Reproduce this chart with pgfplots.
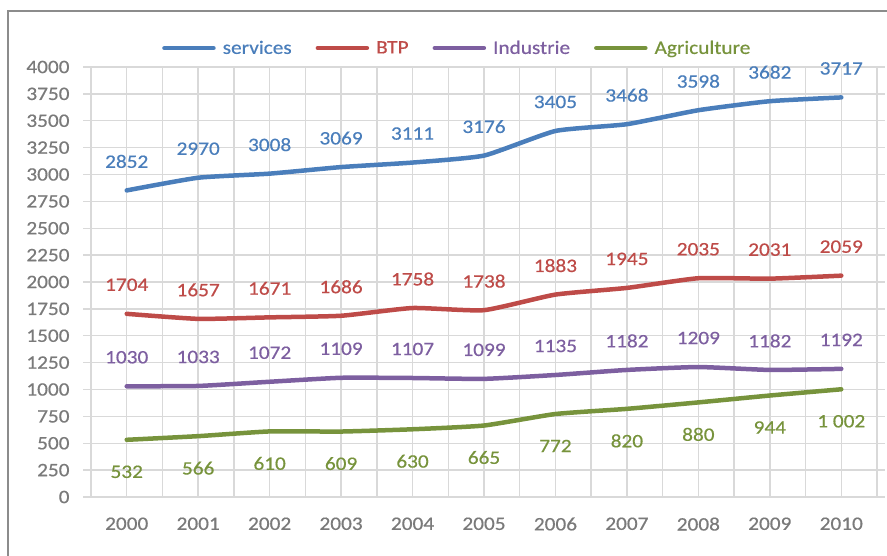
\documentclass[border=0pt]{standalone}
\usepackage{fontspec}
\setmainfont{Carlito}[FakeStretch=1.12, FakeBold=0.5]
\usepackage{pgfplots}
\pgfplotsset{compat=1.18}
\definecolor{svc}{HTML}{4A7EBB}
\definecolor{btp}{HTML}{BE4B48}
\definecolor{ind}{HTML}{7D5FA0}
\definecolor{agr}{HTML}{77933C}
\definecolor{gridc}{HTML}{D9D9D9}
\definecolor{tickc}{HTML}{7A7A7A}
\definecolor{framec}{HTML}{8C8C8C}
\begin{document}
\begin{tikzpicture}
\path[use as bounding box] (-91pt,-58pt) rectangle (796pt,497pt);
\draw[framec, line width=2.2pt] (-83pt,-60pt) -- (-83pt,486pt) -- (800pt,486pt);
\begin{axis}[
  scale only axis, width=786pt, height=430pt,
  xmin=1999.5, xmax=2010.5, ymin=0, ymax=4000,
  xtick={2000,2001,...,2010},
  minor xtick={1999.5,2000.5,...,2010.5},
  ytick={0,250,...,4000},
  grid=both,
  major grid style={gridc, line width=1.4pt},
  minor grid style={gridc, line width=1.4pt},
  axis line style={gridc, line width=1.4pt},
  tick align=outside,
  major tick length=8pt, minor tick length=8pt,
  tick style={gridc, line width=1.4pt},
  xtick style={draw=none},
  xminorticks=true,
  font=\fontsize{19}{22}\selectfont,
  tick label style={text=tickc, font=\fontsize{19}{22}\selectfont},
  /pgf/number format/assume math mode=true,
  /pgf/number format/1000 sep={},
  xticklabel style={yshift=-9pt},
  yticklabel style={xshift=-10pt},
  legend columns=4,
  legend style={draw=none, fill=none, at={(0.466,1.044)}, anchor=center,
    font=\fontsize{19}{22}\selectfont,
    /tikz/every odd column/.append style={column sep=5pt},
    /tikz/every even column/.append style={column sep=22pt}},
  legend image code/.code={\draw[#1, line width=4.5pt, line cap=round] (0pt,0pt) -- (49pt,0pt);},
  point meta=explicit symbolic,
  nodes near coords,
  every node near coord/.append style={font=\fontsize{19}{22}\selectfont, anchor=center},
]
\addplot[svc, line width=4.5pt, smooth, tension=0.3, line cap=round,
  every node near coord/.append style={text=svc, yshift=29pt}]
coordinates {(2000,2852)[2852] (2001,2970)[2970] (2002,3008)[3008] (2003,3069)[3069] (2004,3111)[3111] (2005,3176)[3176] (2006,3405)[3405] (2007,3468)[3468] (2008,3598)[3598] (2009,3682)[3682] (2010,3717)[3717]};
\addlegendentry{\textcolor{svc}{services}}
\addplot[btp, line width=4.5pt, smooth, tension=0.3, line cap=round,
  every node near coord/.append style={text=btp, yshift=29pt}]
coordinates {(2000,1704)[1704] (2001,1657)[1657] (2002,1671)[1671] (2003,1686)[1686] (2004,1758)[1758] (2005,1738)[1738] (2006,1883)[1883] (2007,1945)[1945] (2008,2035)[2035] (2009,2031)[2031] (2010,2059)[2059]};
\addlegendentry{\textcolor{btp}{BTP}}
\addplot[ind, line width=4.5pt, smooth, tension=0.3, line cap=round,
  every node near coord/.append style={text=ind, yshift=29pt}]
coordinates {(2000,1030)[1030] (2001,1033)[1033] (2002,1072)[1072] (2003,1109)[1109] (2004,1107)[1107] (2005,1099)[1099] (2006,1135)[1135] (2007,1182)[1182] (2008,1209)[1209] (2009,1182)[1182] (2010,1192)[1192]};
\addlegendentry{\textcolor{ind}{Industrie}}
\addplot[agr, line width=4.5pt, smooth, tension=0.3, line cap=round,
  every node near coord/.append style={text=agr, yshift=-32pt}]
coordinates {(2000,532)[532] (2001,566)[566] (2002,610)[610] (2003,609)[609] (2004,630)[630] (2005,665)[665] (2006,772)[772] (2007,820)[820] (2008,880)[880] (2009,944)[944] (2010,1002)[1 002]};
\addlegendentry{\textcolor{agr}{Agriculture}}
\end{axis}
\end{tikzpicture}
\end{document}
